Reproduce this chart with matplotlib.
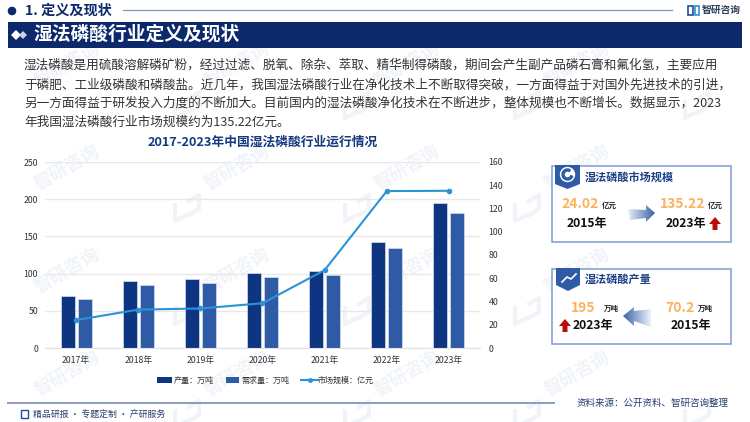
import numpy as np
import matplotlib
matplotlib.use('Agg')
import matplotlib.pyplot as plt
from matplotlib.patches import Polygon, Rectangle, Circle, Wedge

plt.rcParams['font.family'] = ['Noto Sans CJK SC', 'DejaVu Sans']

# chart data
years = ['2017年', '2018年', '2019年', '2020年', '2021年', '2022年', '2023年']
output = [70.2, 90.5, 93, 101, 103, 142.5, 195]
demand = [66, 85, 88, 95, 98, 135, 181.5]
market = [24.02, 33, 34, 38.5, 67, 135, 135.22]

left_ticks = [0, 50, 100, 150, 200, 250]
right_ticks = [0, 20, 40, 60, 80, 100, 120, 140, 160]

body_lines = [
    '湿法磷酸是用硫酸溶解磷矿粉，经过过滤、脱氧、除杂、萃取、精华制得磷酸，期间会产生副产品磷石膏和氟化氢，主要应用',
    '于磷肥、工业级磷酸和磷酸盐。近几年，我国湿法磷酸行业在净化技术上不断取得突破，一方面得益于对国外先进技术的引进，',
    '另一方面得益于研发投入力度的不断加大。目前国内的湿法磷酸净化技术在不断进步，整体规模也不断增长。数据显示，2023',
    '年我国湿法磷酸行业市场规模约为135.22亿元。',
]

NAVY = '#0c2a6b'
DARK = '#0e3582'
MID = '#2f5aa6'
LINE = '#2b93d6'
ORANGE = '#f9b35c'
RED = '#b80d0d'
WM = '#f0f4f9'
W, H = 750, 422

fig = plt.figure(figsize=(W / 100, H / 100), dpi=100, facecolor='white')

# page layer in pixel coordinates
page = fig.add_axes([0, 0, 1, 1], zorder=0)
page.set_xlim(0, W)
page.set_ylim(H, 0)
page.axis('off')

# watermark, kept under everything else
for wx in [67, 237, 407, 577]:
    for wy in [64, 167, 270, 373]:
        page.text(wx, wy, '智研咨询', fontsize=13, color=WM, rotation=30,
                  ha='center', va='center', fontweight='bold', zorder=0.5)
        lx, ly = wx + 120, wy + 40
        page.plot([lx - 12, lx - 12, lx], [ly - 2, ly + 14, ly + 8], color=WM, lw=3, zorder=0.5)
        page.plot([lx + 2, lx + 12, lx + 12, lx + 2], [ly - 6, ly - 12, ly + 2, ly + 8], color=WM, lw=3, zorder=0.5)

# top header
page.add_patch(Circle((12, 11), 3.6, color=NAVY))
page.text(25, 11, '1. 定义及现状', fontsize=10.2, fontweight='bold', color=NAVY, va='center')
page.plot([123, 672], [10, 10], color='#7f95bf', lw=0.9)
page.add_patch(Rectangle((8, 22), 734, 26, color=NAVY, lw=0, zorder=2))
page.add_patch(Polygon([(11, 35), (16, 30), (21, 35), (16, 40)], color='white', lw=0, zorder=3))
page.add_patch(Polygon([(19, 35), (23, 31), (27, 35), (23, 39)], color='#c9d3e6', lw=0, zorder=3))
page.text(34, 34.5, '湿法磷酸行业定义及现状', fontsize=13.5, fontweight='bold', color='white', va='center', zorder=3)

# logo
page.add_patch(Rectangle((688, 6), 5, 9, fill=False, ec='#1f4e9c', lw=1.2))
page.add_patch(Rectangle((695, 6), 4, 9, fill=False, ec='#2b93d6', lw=1.2))
page.text(702, 10, '智研咨询', fontsize=7, fontweight='bold', color='#2c3e5c', va='center')

# paragraph
for text_y, line in zip([65, 85, 103, 122], body_lines):
    page.text(24, text_y, line, fontsize=9.1, color='#333333', va='center')

page.text(263, 142, '2017-2023年中国湿法磷酸行业运行情况', fontsize=9.2, fontweight='bold',
          color='#14397f', ha='center', va='center')


def gradient_arrow(pts, x0, x1, c_from, c_to):
    n = 64
    a = np.linspace(0, 1, n)
    c0 = np.array(matplotlib.colors.to_rgb(c_from))
    c1 = np.array(matplotlib.colors.to_rgb(c_to))
    img = (c0[None, :] * (1 - a)[:, None] + c1[None, :] * a[:, None])[None, :, :]
    ys = [p[1] for p in pts]
    im = page.imshow(img, extent=[x0, x1, max(ys), min(ys)], aspect='auto', zorder=2)
    clip = Polygon(pts, transform=page.transData, fc='none', ec='none')
    page.add_patch(clip)
    im.set_clip_path(clip)
    page.set_xlim(0, W)
    page.set_ylim(H, 0)


def red_arrow(x, y):
    page.add_patch(Polygon([(x - 6, y), (x, y - 7), (x + 6, y), (x + 2.5, y),
                            (x + 2.5, y + 6), (x - 2.5, y + 6), (x - 2.5, y)], color=RED, lw=0, zorder=3))


# market size card
page.add_patch(Rectangle((552, 166), 179, 76, fc='white', ec='#7f9bd0', lw=1.1, zorder=1))
page.add_patch(Polygon([(555, 165), (580, 165), (580, 184), (567.5, 189), (555, 184)], color='#2f5aa6', lw=0, zorder=2))
page.add_patch(Circle((567.5, 174.5), 7, color='white', zorder=3))
page.add_patch(Wedge((567.5, 174.5), 5.5, 20, 300, width=2, color='#2f5aa6', zorder=4))
page.text(585, 177, '湿法磷酸市场规模', fontsize=8, fontweight='bold', color='#1d3f86', va='center', zorder=3)
page.text(561, 204, '24.02', fontsize=10, fontweight='bold', color=ORANGE, va='center', zorder=3)
page.text(602, 205, '亿元', fontsize=5.4, fontweight='bold', color='#222222', va='center', zorder=3)
page.text(567, 223, '2015年', fontsize=8.7, fontweight='bold', color='#111111', va='center', zorder=3)
gradient_arrow([(628, 209), (646, 210), (646, 205), (655, 213), (646, 222), (646, 218), (630, 220)],
               628, 655, '#e8eef7', '#3a62a8')
page.text(660, 204, '135.22', fontsize=10, fontweight='bold', color=ORANGE, va='center', zorder=3)
page.text(708, 205, '亿元', fontsize=5.4, fontweight='bold', color='#222222', va='center', zorder=3)
page.text(666, 223, '2023年', fontsize=8.7, fontweight='bold', color='#111111', va='center', zorder=3)
red_arrow(715, 224)

# output card
page.add_patch(Rectangle((552, 269), 179, 75, fc='white', ec='#7f9bd0', lw=1.1, zorder=1))
page.add_patch(Polygon([(556, 268), (580, 268), (580, 285), (568, 291), (556, 285)], color='#2f5aa6', lw=0, zorder=2))
page.plot([562, 567, 571, 576], [282, 277, 279, 274], color='white', lw=1.2, zorder=3)
page.text(585, 279, '湿法磷酸产量', fontsize=8, fontweight='bold', color='#1d3f86', va='center', zorder=3)
page.text(571, 308, '195', fontsize=10, fontweight='bold', color=ORANGE, va='center', zorder=3)
page.text(604, 308, '万吨', fontsize=5.4, fontweight='bold', color='#222222', va='center', zorder=3)
page.text(573, 325, '2023年', fontsize=8.7, fontweight='bold', color='#111111', va='center', zorder=3)
red_arrow(565, 326)
gradient_arrow([(651, 309), (634, 311), (634, 307), (623, 316), (634, 326), (634, 321), (651, 327)],
               623, 651, '#3a62a8', '#eef2f9')
page.text(665, 308, '70.2', fontsize=10, fontweight='bold', color=ORANGE, va='center', zorder=3)
page.text(698, 308, '万吨', fontsize=5.4, fontweight='bold', color='#222222', va='center', zorder=3)
page.text(671, 325, '2015年', fontsize=8.7, fontweight='bold', color='#111111', va='center', zorder=3)

# footer
page.plot([8, 554], [403, 403], color='#8a9cc2', lw=1.4)
page.add_patch(Rectangle((21, 410), 7, 8, fill=False, ec='#1f4e9c', lw=1))
page.text(33, 414, '精品研报 · 专题定制 · 产研服务', fontsize=6.4, color='#26406f', va='center')
page.text(577, 403, '资料来源：公开资料、智研咨询整理', fontsize=6.85, color='#26406f', va='center')

# chart, bars on the left scale and the line on the right
ax = fig.add_axes([45 / W, 1 - 348 / H, 435 / W, 186 / H], zorder=2)
ax.patch.set_alpha(0)
x = np.arange(len(years))
bar_w = 0.225
ax.bar(x - 0.136, output, bar_w, color=DARK, ec='#d5dff0', lw=0.5, label='产量：万吨')
ax.bar(x + 0.136, demand, bar_w, color=MID, ec='#d5dff0', lw=0.5, label='需求量：万吨')
ax.set_xlim(-0.5, 6.5)
ax.set_ylim(0, 250)
ax.set_yticks(left_ticks)
ax.set_xticks(x, years)
ax.grid(axis='y', color='#e6e8ec', lw=1)
ax.set_axisbelow(True)
for s in ax.spines.values():
    s.set_visible(False)
ax.spines['bottom'].set_visible(True)
ax.spines['bottom'].set_color('#e0e2e6')
ax.tick_params(length=0, labelsize=6.3, labelcolor='#333333')
ax.tick_params(axis='x', pad=6)
ax.tick_params(axis='y', pad=5)

ax2 = ax.twinx()
ax2.patch.set_alpha(0)
ax2.plot(x, market, color=LINE, lw=1.5, marker='o', ms=3, label='市场规模：亿元')
ax2.set_ylim(0, 160)
ax2.set_yticks(right_ticks)
for s in ax2.spines.values():
    s.set_visible(False)
ax2.tick_params(length=0, labelsize=6.3, labelcolor='#333333', pad=6)

# legend drawn on the page layer to sit at the reference position
page.add_patch(Rectangle((157, 377), 15, 6, color=DARK, lw=0))
page.text(174, 380, '产量：万吨', fontsize=5.8, color='#333333', va='center')
page.add_patch(Rectangle((226, 377), 13, 6, color=MID, lw=0))
page.text(241, 380, '需求量：万吨', fontsize=5.8, color='#333333', va='center')
page.plot([301, 318], [380, 380], color=LINE, lw=1.5)
page.plot([309.5], [380], color=LINE, marker='o', ms=2.5)
page.text(318, 380, '市场规模：亿元', fontsize=5.8, color='#333333', va='center')

fig.savefig('out.png', dpi=100)
